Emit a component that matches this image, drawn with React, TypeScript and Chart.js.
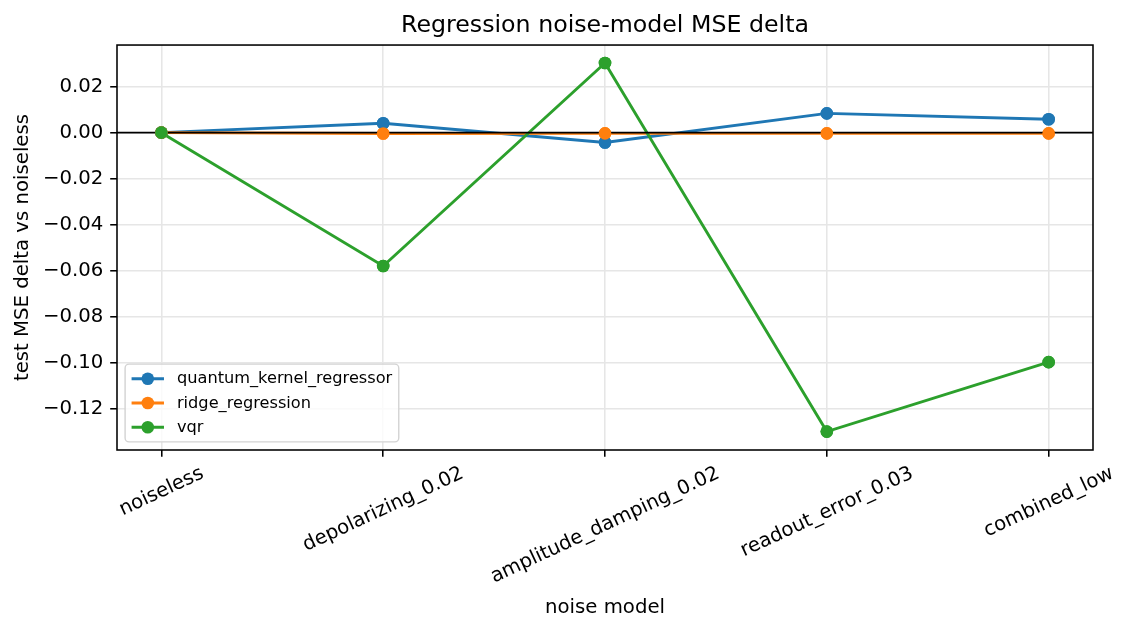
import React, { useEffect, useRef } from 'react';
import { Chart, registerables } from 'chart.js';

Chart.register(...registerables);

const categories = ['noiseless', 'depolarizing_0.02', 'amplitude_damping_0.02', 'readout_error_0.03', 'combined_low'];
const seriesNames = ['quantum_kernel_regressor', 'ridge_regression', 'vqr'];
const qkrValues = [0, 0.0041, -0.0043, 0.0084, 0.0058];
const ridgeValues = [0, -0.0004, -0.0003, -0.0003, -0.0003];
const vqrValues = [0, -0.058, 0.0303, -0.13, -0.0998];
const yTickValues = [-0.12, -0.1, -0.08, -0.06, -0.04, -0.02, 0, 0.02];
const seriesColors = ['#1f77b4', '#ff7f0e', '#2ca02c'];

const FONT = '"DejaVu Sans", "Liberation Sans", sans-serif';
const TICK_FS = 19.7;
const LEGEND_FS = 16.2;
const LINE_W = 2.92;
const MARKER_R = 6.3;
const GRID_COLOR = '#e6e6e6';

const fmt = (v: number) => (v < -1e-9 ? '\u2212' : '') + Math.abs(v).toFixed(2);

const customPlugin = {
  id: 'customDecor',
  afterDatasetsDraw(chart: any) {
    const { ctx, chartArea: a, scales } = chart;
    const y0 = scales.y.getPixelForValue(0);
    ctx.save();
    ctx.strokeStyle = '#000';
    ctx.lineWidth = 1.56;
    ctx.beginPath();
    ctx.moveTo(a.left, y0);
    ctx.lineTo(a.right, y0);
    ctx.stroke();
    for (let i = 0; i < chart.data.datasets.length; i++) {
      const meta = chart.getDatasetMeta(i);
      meta.data.forEach((p: any) => p.draw(ctx, a));
    }
    ctx.strokeStyle = '#000';
    ctx.lineWidth = 1.56;
    ctx.strokeRect(a.left, a.top, a.right - a.left, a.bottom - a.top);
    ctx.restore();
  },
  afterDraw(chart: any) {
    const { ctx, chartArea: a, scales } = chart;
    ctx.save();
    // rotated x tick labels, centred on tick (matplotlib style)
    const ang = (25 * Math.PI) / 180;
    ctx.font = `${TICK_FS}px ${FONT}`;
    ctx.fillStyle = '#000';
    ctx.textAlign = 'center';
    ctx.textBaseline = 'alphabetic';
    const topY = a.bottom + 6.8 + 6.8;
    const h = 0.97 * TICK_FS;
    categories.forEach((label, i) => {
      const x = scales.x.getPixelForValue(i);
      const w = ctx.measureText(label).width;
      const H = w * Math.sin(ang) + h * Math.cos(ang);
      const cy = topY + H / 2;
      ctx.save();
      ctx.translate(x, cy);
      ctx.rotate(-ang);
      ctx.fillText(label, 0, 0.28 * TICK_FS);
      ctx.restore();
    });

    // legend (lower left)
    const fs = LEGEND_FS;
    ctx.font = `${fs}px ${FONT}`;
    const bp = 0.4 * fs;
    const handleLen = 2 * fs;
    const textPad = 0.8 * fs;
    const rowH = fs;
    const spacing = 0.5 * fs;
    let maxW = 0;
    seriesNames.forEach((n) => {
      maxW = Math.max(maxW, ctx.measureText(n).width);
    });
    const boxW = 2 * bp + handleLen + textPad + maxW;
    const boxH = 2 * bp + seriesNames.length * rowH + (seriesNames.length - 1) * spacing;
    const lx = a.left + 0.5 * fs;
    const ly = a.bottom - 0.5 * fs - boxH;
    ctx.beginPath();
    (ctx as any).roundRect(lx, ly, boxW, boxH, 4);
    ctx.fillStyle = 'rgba(255,255,255,0.8)';
    ctx.fill();
    ctx.strokeStyle = '#d3d3d3';
    ctx.lineWidth = 1.4;
    ctx.stroke();
    seriesNames.forEach((n, i) => {
      const cy = ly + bp + rowH / 2 + i * (rowH + spacing);
      const hx = lx + bp;
      ctx.strokeStyle = seriesColors[i];
      ctx.lineWidth = LINE_W;
      ctx.beginPath();
      ctx.moveTo(hx, cy);
      ctx.lineTo(hx + handleLen, cy);
      ctx.stroke();
      ctx.fillStyle = seriesColors[i];
      ctx.beginPath();
      ctx.arc(hx + handleLen / 2, cy, MARKER_R, 0, Math.PI * 2);
      ctx.fill();
      ctx.fillStyle = '#000';
      ctx.textAlign = 'left';
      ctx.textBaseline = 'alphabetic';
      ctx.fillText(n, hx + handleLen + textPad, cy + 0.28 * fs);
    });
    ctx.restore();
  },
};

export default function App() {
  const canvasRef = useRef<HTMLCanvasElement | null>(null);

  useEffect(() => {
    if (!canvasRef.current) return;
    const seriesValues = [qkrValues, ridgeValues, vqrValues];
    const datasets = seriesNames.map((name, si) => ({
      label: name,
      data: seriesValues[si].map((v, i) => ({ x: i, y: v })),
      borderColor: seriesColors[si],
      backgroundColor: seriesColors[si],
      pointBackgroundColor: seriesColors[si],
      pointBorderColor: seriesColors[si],
      pointBorderWidth: 0,
      pointRadius: MARKER_R,
      borderWidth: LINE_W,
      tension: 0,
      fill: false,
      order: 2 - si,
    }));

    const chart = new Chart(canvasRef.current, {
      type: 'line',
      data: { datasets },
      options: {
        animation: false,
        responsive: false,
        devicePixelRatio: 1,
        layout: { padding: { left: 0, right: 40, top: 0, bottom: 0 } },
        plugins: {
          legend: { display: false },
          tooltip: { enabled: false },
          title: {
            display: true,
            fullSize: false,
            text: 'Regression noise-model MSE delta',
            color: '#000',
            font: { family: FONT, size: 23.7, weight: 'normal', lineHeight: 1.2 },
            padding: { top: 11.2, bottom: 5.4 },
          },
        },
        scales: {
          x: {
            type: 'linear',
            min: -0.2,
            max: 4.2,
            afterBuildTicks: (s: any) => {
              s.ticks = categories.map((_, i) => ({ value: i }));
            },
            afterFit: (s: any) => {
              s.height = 181;
            },
            ticks: { display: false, autoSkip: false },
            grid: {
              color: GRID_COLOR,
              lineWidth: 1.56,
              tickColor: '#000',
              tickLength: 6.8,
              tickWidth: 1.56,
            },
            border: { display: false },
            title: {
              display: true,
              text: 'noise model',
              color: '#000',
              font: { family: FONT, size: TICK_FS, lineHeight: 1.2 },
              padding: { top: 0, bottom: 11.2 },
            },
          },
          y: {
            type: 'linear',
            min: -0.138,
            max: 0.0381,
            afterBuildTicks: (s: any) => {
              s.ticks = yTickValues.map((v) => ({ value: v }));
            },
            afterFit: (s: any) => {
              s.width = 117;
            },
            ticks: {
              autoSkip: false,
              color: '#000',
              padding: 6.8,
              font: { family: FONT, size: TICK_FS },
              callback: (v: any) => fmt(Number(v)),
            },
            grid: {
              color: GRID_COLOR,
              lineWidth: 1.56,
              tickColor: '#000',
              tickLength: 6.8,
              tickWidth: 1.56,
            },
            border: { display: false },
            title: {
              display: true,
              text: 'test MSE delta vs noiseless',
              color: '#000',
              font: { family: FONT, size: TICK_FS, lineHeight: 1.2 },
              padding: { top: 10.8, bottom: 0 },
            },
          },
        },
      },
      plugins: [customPlugin],
    } as any);

    return () => {
      chart.destroy();
    };
  }, []);

  return (
    <div style={{ position: 'absolute', left: 0, top: 0, width: 1133, height: 631, background: '#fff' }}>
      <canvas ref={canvasRef} width={1133} height={631} style={{ display: 'block' }} />
    </div>
  );
}
